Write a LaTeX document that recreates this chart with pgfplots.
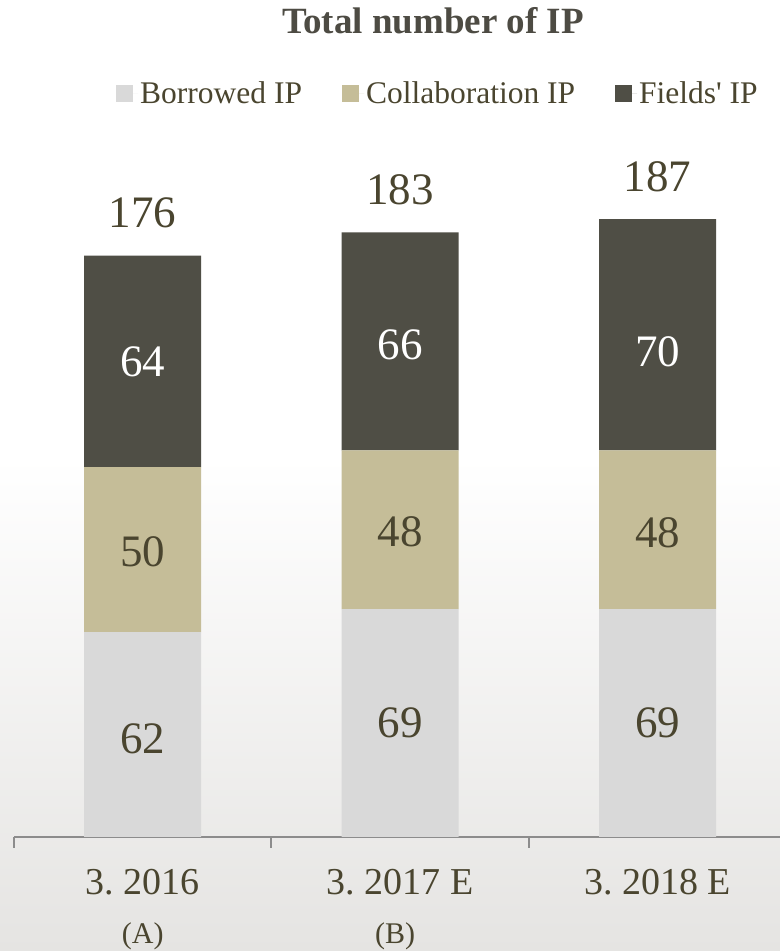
\documentclass[border=0pt]{standalone}
\usepackage{pgfplots}
\pgfplotsset{compat=1.18}
\usepackage{fontspec}
\setmainfont{Liberation Serif}[Ligatures=TeXOff]
\frenchspacing
\definecolor{cBor}{HTML}{D9D9D9}
\definecolor{cCol}{HTML}{C5BD98}
\definecolor{cFie}{HTML}{4F4E45}
\definecolor{txt}{HTML}{4A452F}
\definecolor{ttl}{HTML}{4D4B43}
\definecolor{axc}{HTML}{8C8C8C}
\definecolor{bgb}{HTML}{E5E4E2}
\begin{document}
\begin{tikzpicture}[x=1bp,y=1bp]
\fill[white] (0,0) rectangle (780,951);
\shade[top color=white,bottom color=bgb] (0,0) rectangle (780,494);
\pgfplotsset{base/.style={at={(14bp,114bp)}, anchor=south west, scale only axis,
  width=766bp, height=837bp, xmin=-0.5, xmax=2.475, ymin=0, ymax=253.37, clip=false}}
\begin{axis}[base, ybar stacked, bar width=117bp,
  axis y line=none, axis x line*=bottom,
  x axis line style={draw=axc, line width=2bp},
  xtick={0,1,2}, xticklabels={3. 2016, 3. 2017 E, 3. 2018 E},
  major tick length=0pt,
  xticklabel style={font=\fontsize{38bp}{46bp}\selectfont, text=txt, anchor=base, yshift=-58bp},
  extra x ticks={-0.5,0.5,1.5}, extra x tick labels={},
  extra x tick style={major tick length=11bp, tick align=outside, tick style={draw=axc, line width=2bp}},
  title={Total number of IP},
  title style={at={(axis description cs:0.547,0.9530)}, anchor=base, font=\bfseries\fontsize{37bp}{44bp}\selectfont, text=ttl},
  legend style={at={(axis description cs:0.5535,0.8885)}, anchor=center, draw=none, fill=none,
    legend columns=3, font=\fontsize{31.5bp}{38bp}\selectfont, text=txt,
    /tikz/every even column/.append style={column sep=38bp}},
  legend image code/.code={\path (0bp,0bp) -- (22bp,0bp);\fill[#1] (0bp,-8.5bp) rectangle (17bp,8.5bp);},
]
\addplot[draw=none, fill=cBor] coordinates {(0,62) (1,69) (2,69)};
\addlegendentry{Borrowed IP}
\addplot[draw=none, fill=cCol] coordinates {(0,50) (1,48) (2,48)};
\addlegendentry{Collaboration IP}
\addplot[draw=none, fill=cFie] coordinates {(0,64) (1,66) (2,70)};
\addlegendentry{Fields' IP}
\end{axis}
\begin{axis}[base, axis y line=none, axis x line*=bottom,
  x axis line style={draw=none}, major tick length=0pt,
  xtick={0,0.98}, xticklabels={(A),(B)},
  xticklabel style={font=\fontsize{30bp}{36bp}\selectfont, text=txt, anchor=base, yshift=-106bp}]
\addplot[draw=none, mark=none, nodes near coords, point meta=explicit symbolic,
  every node near coord/.append style={anchor=base, yshift=28bp, font=\fontsize{45bp}{54bp}\selectfont, text=txt}]
  coordinates {(0,176) [176] (1,183) [183] (2,187) [187]};
\addplot[draw=none, mark=none, nodes near coords, point meta=explicit symbolic,
  every node near coord/.append style={anchor=center, font=\fontsize{45bp}{54bp}\selectfont, text=txt}]
  coordinates {(0,29.8) [62] (1,34.5) [69] (2,34.5) [69] (0,86.3) [50] (1,92.4) [48] (2,92) [48]};
\addplot[draw=none, mark=none, nodes near coords, point meta=explicit symbolic,
  every node near coord/.append style={anchor=center, font=\fontsize{45bp}{54bp}\selectfont, text=white}]
  coordinates {(0,143.8) [64] (1,148.9) [66] (2,146.8) [70]};
\end{axis}
\pgfresetboundingbox
\useasboundingbox (0,0) rectangle (780,951);
\end{tikzpicture}
\end{document}
